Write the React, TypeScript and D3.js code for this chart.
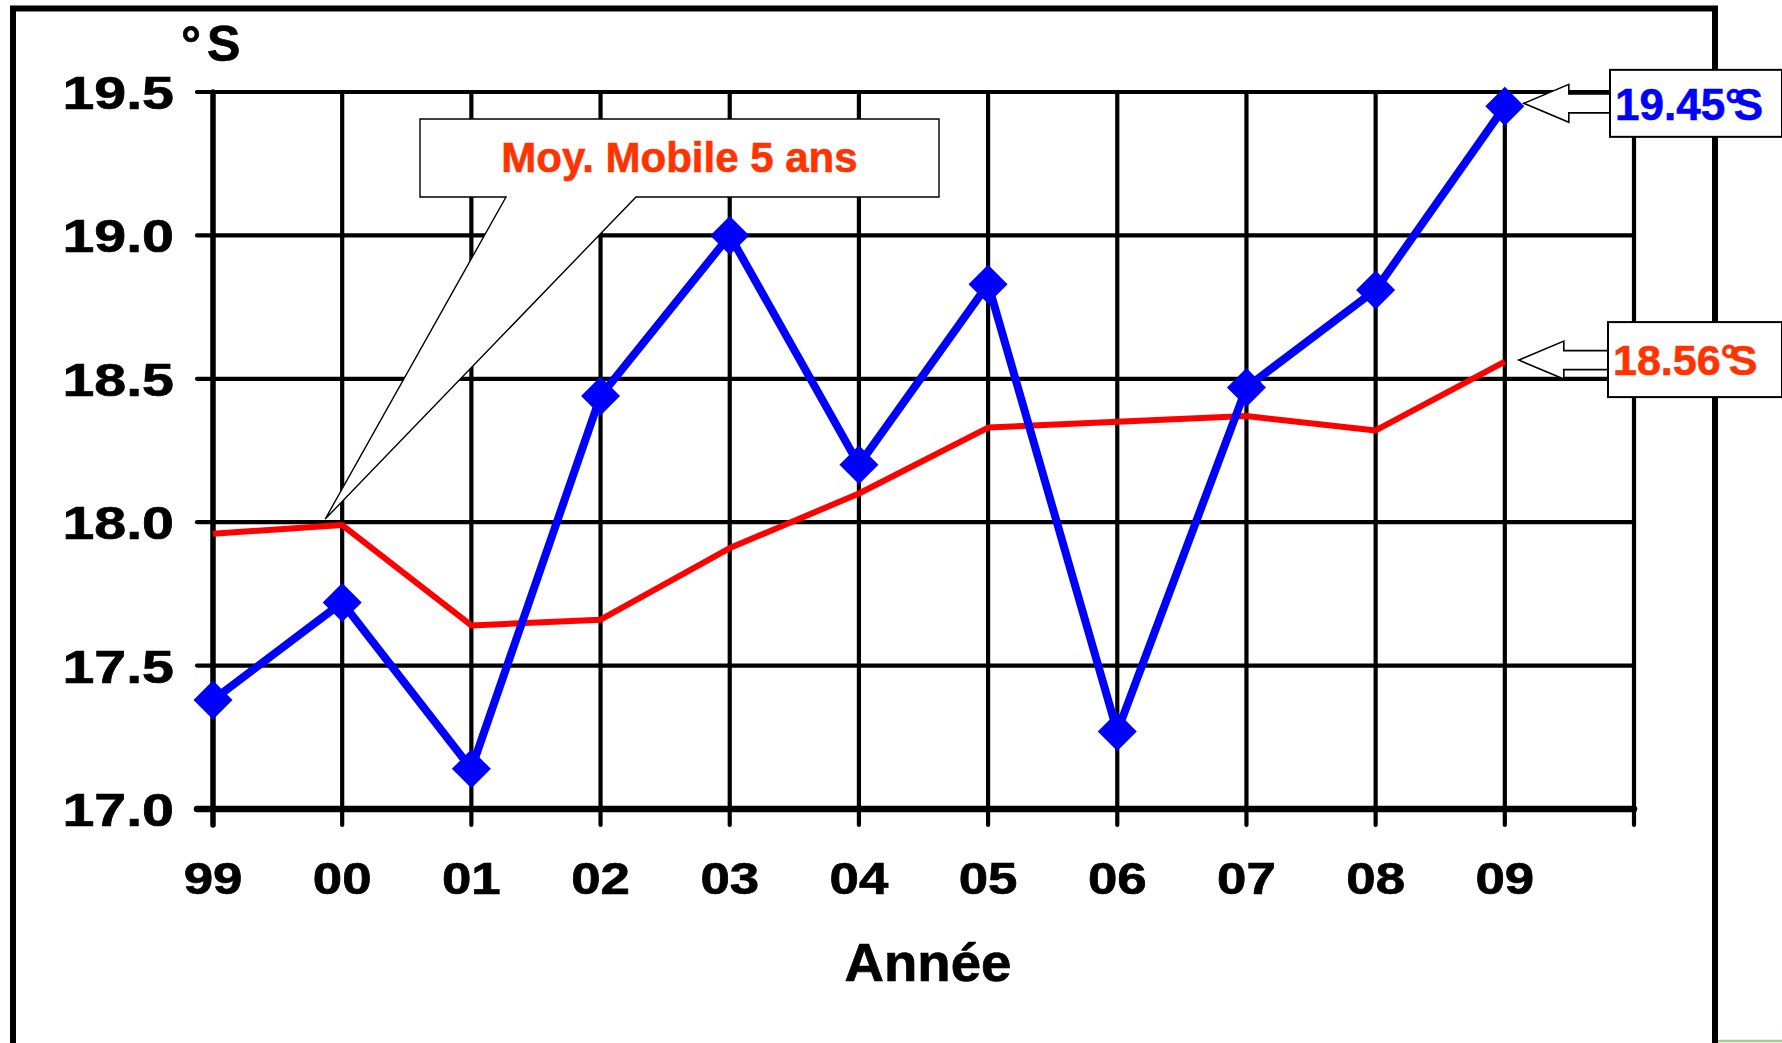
import React from "react";
import * as d3 from "d3";

const years = ["99", "00", "01", "02", "03", "04", "05", "06", "07", "08", "09"];
const salinity = [17.38, 17.72, 17.14, 18.44, 19.0, 18.2, 18.83, 17.27, 18.47, 18.81, 19.45];
const movingAvg = [17.96, 17.99, 17.64, 17.66, 17.91, 18.1, 18.33, 18.35, 18.37, 18.32, 18.56];
const yTicks = [17.0, 17.5, 18.0, 18.5, 19.0, 19.5];
const yUnit = "S";
const xTitle = "Année";
const calloutText = "Moy. Mobile 5 ans";
const lastSalinityLabel = "19.45";
const lastAvgLabel = "18.56";

const FONT = "'Liberation Sans', Arial, Helvetica, sans-serif";
const BLUE = "#0000FF";
const RED = "#FF0000";
const ORANGE = "#FF3300";

export default function App() {
  const W = 1782;
  const H = 1043;
  const x = d3.scaleLinear().domain([0, years.length]).range([213, 1634]);
  const y = d3.scaleLinear().domain([17, 19.5]).range([809, 92]);
  const line = d3
    .line<number>()
    .x((_, i) => x(i))
    .y((d) => y(d));
  const gridIdx = d3.range(years.length + 1);
  const fmt = d3.format(".1f");
  const last = years.length - 1;

  const arrow = (tx: number, ty: number, boxX: number) => {
    const hl = 45, hh = 19, sh = 9.5;
    return `M${tx},${ty} L${tx + hl},${ty - hh} L${tx + hl},${ty - sh} L${boxX},${ty - sh} L${boxX},${ty + sh} L${tx + hl},${ty + sh} L${tx + hl},${ty + hh} Z`;
  };

  const tip1 = { x: x(last) + 19, y: y(salinity[last]) - 3 };
  const tip2 = { x: x(last) + 14, y: y(movingAvg[last]) - 1.5 };

  const cb = { x0: 420, x1: 939, y0: 119, y1: 197 };
  const tipC = { x: x(1) - 17, y: y(movingAvg[1]) - 6 };
  const calloutPath = `M${cb.x0},${cb.y0} H${cb.x1} V${cb.y1} H636 L${tipC.x},${tipC.y} L506,${cb.y1} H${cb.x0} Z`;

  const dm = 19.5;

  return (
    <svg
      width={W}
      height={H}
      style={{ position: "absolute", left: 0, top: 0, background: "#fff" }}
      fontFamily={FONT}
      fontWeight="bold"
    >
      <rect x={0} y={0} width={W} height={H} fill="#fff" />
      <rect x={13} y={8.5} width={1702} height={1100} fill="none" stroke="#000" strokeWidth={6} />
      <line x1={1718} x2={W} y1={1041} y2={1041} stroke="#A9CB8F" strokeWidth={2.5} />

      {yTicks.map((t) => (
        <line
          key={"h" + t}
          x1={197}
          x2={x(years.length)}
          y1={y(t)}
          y2={y(t)}
          stroke="#000"
          strokeWidth={t === 17 ? 6.5 : 4.2}
          strokeLinecap="round"
        />
      ))}
      {gridIdx.map((i) => (
        <line
          key={"v" + i}
          x1={x(i)}
          x2={x(i)}
          y1={y(19.5)}
          y2={825}
          stroke="#000"
          strokeWidth={i === 0 ? 5.5 : 4.2}
          strokeLinecap="round"
        />
      ))}

      {yTicks.map((t) => (
        <text
          key={"yl" + t}
          transform={`translate(174,${y(t) + 17}) scale(1.22,1)`}
          textAnchor="end"
          fontSize={47}
          fill="#000"
          stroke="#000"
          strokeWidth={0.7}
        >
          {fmt(t)}
        </text>
      ))}
      <text x={181} y={61} fontSize={50} fill="#000" stroke="#000" strokeWidth={0.7}>
        <tspan>°</tspan>
        <tspan dx={6}>{yUnit}</tspan>
      </text>

      {years.map((yr, i) => (
        <text
          key={"xl" + yr}
          transform={`translate(${x(i)},893.5) scale(1.2,1)`}
          textAnchor="middle"
          fontSize={44}
          fill="#000"
          stroke="#000"
          strokeWidth={0.7}
        >
          {yr}
        </text>
      ))}
      <text
        transform={`translate(928,980.5) scale(1.03,1)`}
        textAnchor="middle"
        fontSize={53}
        fill="#000"
        stroke="#000"
        strokeWidth={0.7}
      >
        {xTitle}
      </text>

      <path d={calloutPath} fill="#fff" stroke="#000" strokeWidth={1.4} />
      <text
        x={(cb.x0 + cb.x1) / 2}
        y={171.5}
        textAnchor="middle"
        fontSize={42}
        fill={ORANGE}
        stroke={ORANGE}
        strokeWidth={0.6}
      >
        {calloutText}
      </text>

      <path d={line(movingAvg) || ""} fill="none" stroke={RED} strokeWidth={6} strokeLinejoin="round" />
      <path d={line(salinity) || ""} fill="none" stroke={BLUE} strokeWidth={8} strokeLinejoin="round" />
      {salinity.map((v, i) => (
        <path
          key={"m" + i}
          d={`M${x(i)},${y(v) - dm} L${x(i) + dm},${y(v)} L${x(i)},${y(v) + dm} L${x(i) - dm},${y(v)} Z`}
          fill={BLUE}
        />
      ))}

      <path d={arrow(tip1.x, tip1.y, 1612)} fill="#fff" stroke="#000" strokeWidth={1.6} />
      <rect x={1610} y={tip1.y - 33.5} width={172} height={67} fill="#fff" stroke="#000" strokeWidth={2} />
      <text x={1615} y={tip1.y + 17} fontSize={44} fill={BLUE} stroke={BLUE} strokeWidth={0.6}>
        <tspan>{lastSalinityLabel}</tspan>
        <tspan>°</tspan>
        <tspan dx={-9}>S</tspan>
      </text>

      <path d={arrow(tip2.x, tip2.y, 1610)} fill="#fff" stroke="#000" strokeWidth={1.6} />
      <rect x={1608} y={tip2.y - 38} width={174} height={75} fill="#fff" stroke="#000" strokeWidth={2} />
      <text x={1613} y={tip2.y + 15} fontSize={43} fill={ORANGE} stroke={ORANGE} strokeWidth={0.6}>
        <tspan>{lastAvgLabel}</tspan>
        <tspan>°</tspan>
        <tspan dx={-9}>S</tspan>
      </text>
    </svg>
  );
}
